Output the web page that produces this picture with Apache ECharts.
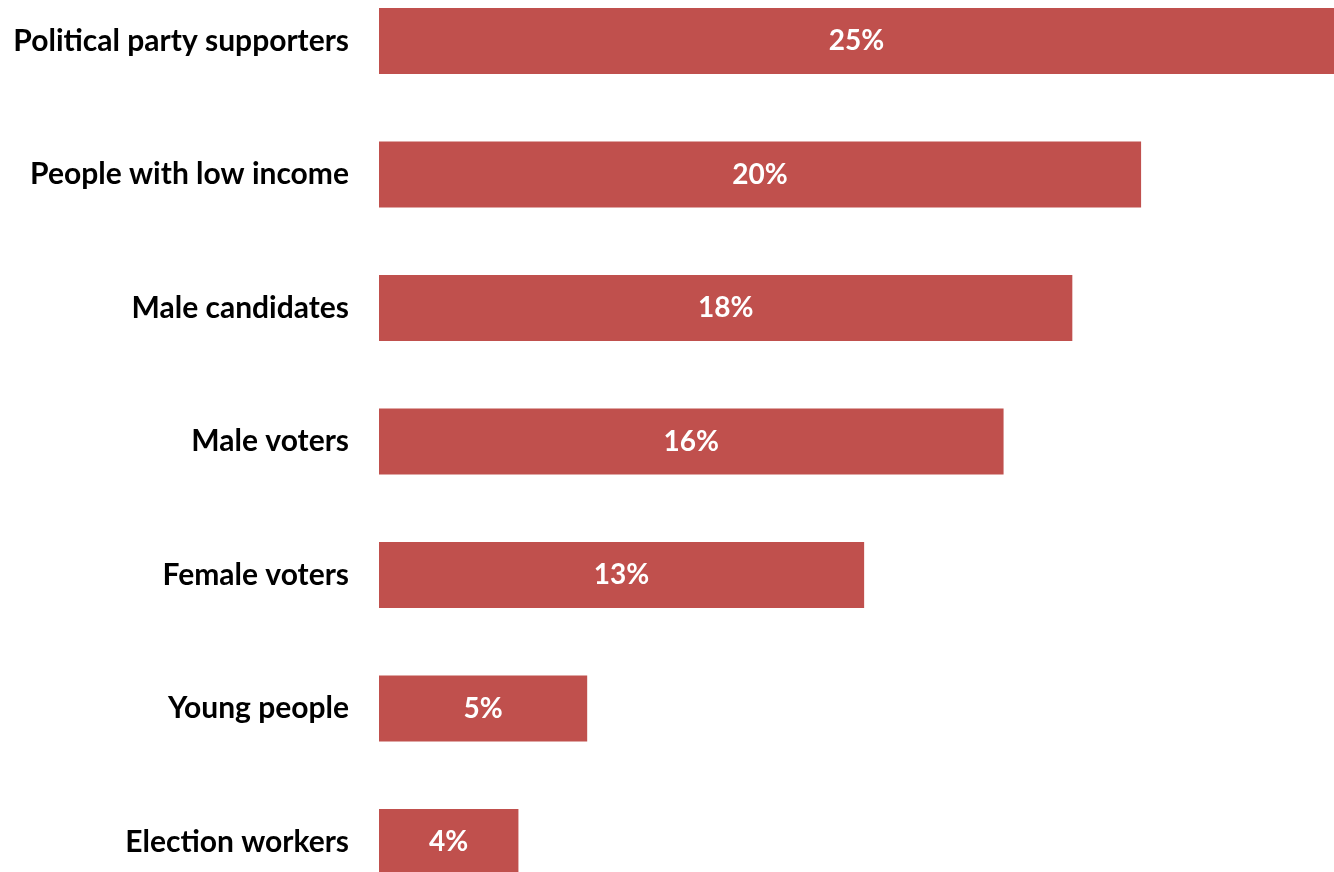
<!DOCTYPE html>
<html><head><meta charset="utf-8">
<script src="https://cdn.jsdelivr.net/npm/echarts@6/dist/echarts.min.js"></script>
<style>html,body{margin:0;padding:0;background:#fff}#c{width:1334px;height:872px}</style>
</head><body><div id="c"></div>
<script>
var categories = ["Political party supporters","People with low income","Male candidates","Male voters","Female voters","Young people","Election workers"];
var values = [25.0, 19.95, 18.15, 16.35, 12.7, 5.45, 3.65];

var chart = echarts.init(document.getElementById('c'));
chart.setOption({
  animation:false,
  grid:{left:379, right:0, top:41, bottom:30, containLabel:false},
  xAxis:{type:'value', min:0, max:25, show:false},
  yAxis:{type:'category', data:categories, inverse:true, boundaryGap:false,
    axisLine:{show:false}, axisTick:{show:false}, splitLine:{show:false},
    axisLabel:{margin:30, fontFamily:'Lato', fontWeight:'bold', fontSize:30, color:'#000'}},
  series:[{type:'bar', data:values, barWidth:66,
    itemStyle:{color:'#C0504D'},
    label:{show:true, position:'inside', color:'#fff', fontFamily:'Lato', fontWeight:'bold', fontSize:28,
      formatter:function(p){return Math.round(p.value)+'%';}}}]
});
</script></body></html>
